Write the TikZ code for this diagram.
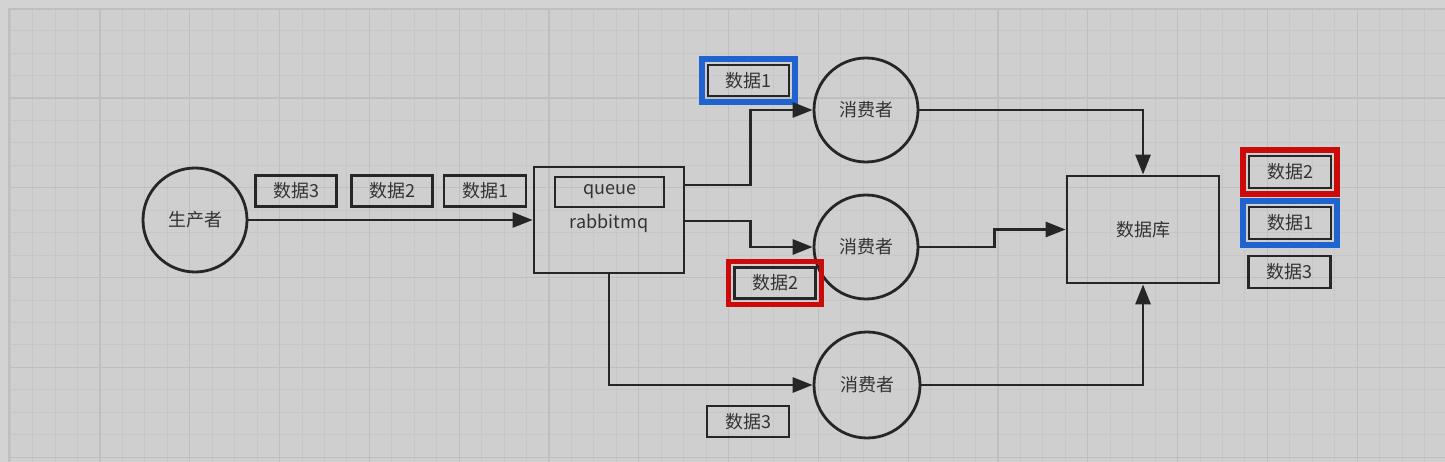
\documentclass[tikz,border=0pt]{standalone}
\usepackage{fontspec}
\setmainfont{Noto Sans CJK SC}
\usetikzlibrary{arrows.meta,calc}
\definecolor{bgc}{HTML}{CFCFCF}
\definecolor{outc}{HTML}{D3D3D3}
\definecolor{minorc}{HTML}{C7C7C7}
\definecolor{majorc}{HTML}{BFBFBF}
\definecolor{ink}{HTML}{262626}
\definecolor{txt}{HTML}{333333}
\definecolor{hlblue}{HTML}{1F63CF}
\definecolor{hlred}{HTML}{CC0A0A}
\begin{document}
\begin{tikzpicture}[x=1pt,y=-1pt,
  lbl/.style={font=\fontsize{18}{21}\selectfont, text=txt},
  ball/.style={circle, draw=ink, line width=2.8pt, minimum size=104pt, inner sep=0pt, lbl},
  databox/.style={rectangle, draw=ink, line width=2.8pt, minimum width=81pt, minimum height=31pt, inner sep=0pt, lbl},
  bigbox/.style={rectangle, draw=ink, line width=2.8pt, inner sep=0pt, lbl},
  arr/.style={draw=ink, line width=2.8pt, -{Triangle[length=20pt,width=15pt]}},
  hl/.style={line width=5.5pt}
]
\useasboundingbox (0,0) rectangle (1445,462);
% background
\fill[outc] (0,0) rectangle (1445,462);
\fill[bgc] (9,9) rectangle (1445,462);
\foreach \i in {-4,...,60} {
  \pgfmathsetmacro{\xx}{100+22.45*\i}
  \ifdim \xx pt>9pt \draw[minorc, line width=1pt] (\xx,9) -- (\xx,462); \fi
}
\foreach \j in {-3,...,16} {
  \pgfmathsetmacro{\yy}{98+22.45*\j}
  \ifdim \yy pt>9pt \draw[minorc, line width=1pt] (9,\yy) -- (1445,\yy); \fi
}
\foreach \i in {0,...,15} {
  \pgfmathsetmacro{\xx}{100+89.8*\i}
  \draw[majorc, line width=1.3pt] (\xx,9) -- (\xx,462);
}
\foreach \j in {-1,...,4} {
  \pgfmathsetmacro{\yy}{98+89.8*\j}
  \ifdim \yy pt>9pt \draw[majorc, line width=1.3pt] (9,\yy) -- (1445,\yy); \fi
}
\draw[majorc, line width=1.2pt] (9,462) -- (9,9) -- (1445,9);

% nodes
\node[ball] (prod) at (195,220) {生产者};
\node[databox] (d3a) at (296,191) {数据3};
\node[databox] (d2a) at (392,191) {数据2};
\node[databox, minimum width=82pt] (d1a) at (485,191) {数据1};

\node[bigbox, minimum width=150pt, minimum height=106pt] (mq) at (609,220) {};
\node[databox, minimum width=109pt, minimum height=30pt] (queue) at (609.5,192) {queue};
\node[lbl] (rmq) at (609,223) {rabbitmq};

\node[ball] (c1) at (866,110) {消费者};
\node[ball] (c2) at (866,247) {消费者};
\node[ball, minimum size=106pt] (c3) at (867,385) {消费者};

\node[bigbox, minimum width=152pt, minimum height=107pt] (db) at (1143,229.5) {数据库};

\node[databox] (b1) at (748.5,80.5) {数据1};
\node[databox] (b2) at (775,283) {数据2};
\node[databox, minimum width=82pt] (b3) at (748,421.5) {数据3};

\node[databox, minimum width=82pt, minimum height=32pt] (r2) at (1290,172) {数据2};
\node[databox, minimum width=82pt, minimum height=32pt] (r1) at (1290,223) {数据1};
\node[databox, minimum width=82pt, minimum height=32pt] (r3) at (1289.5,272) {数据3};

% highlight frames
\draw[hl, hlblue] ($(b1.north west)+(-4.5,-4.5)$) rectangle ($(b1.south east)+(4.5,4.5)$);
\draw[hl, hlred] ($(b2.north west)+(-4.5,-4.5)$) rectangle ($(b2.south east)+(4.5,4.5)$);
\draw[hl, hlred] ($(r2.north west)+(-4.5,-4.5)$) rectangle ($(r2.south east)+(4.5,4.5)$);
\draw[hl, hlblue] ($(r1.north west)+(-4.5,-4.5)$) rectangle ($(r1.south east)+(4.5,4.5)$);

% connectors
\draw[arr] (prod.east) -- (mq.west);
\draw[arr] ([yshift=35pt]mq.east) -- ++(65,0) |- (c1.west);
\draw[arr] ([yshift=-1pt]mq.east) -- ++(65,0) |- (c2.west);
\draw[arr] (mq.south) |- (c3.west);
\draw[arr] (c1.east) -| (db.north);
\draw[arr] (c2.east) -- ++(75,0) |- (db.west);
\draw[arr] (c3.east) -| (db.south);
\end{tikzpicture}
\end{document}
